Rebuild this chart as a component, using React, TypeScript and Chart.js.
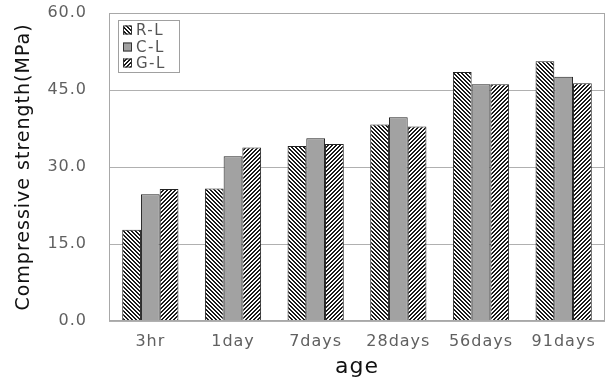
import React, { useEffect, useRef } from "react";
import { Chart, registerables } from "chart.js";

Chart.register(...registerables);

const categories = ["3hr", "1day", "7days", "28days", "56days", "91days"];
const seriesNames = ["R-L", "C-L", "G-L"];
const rlValues = [17.8, 25.8, 34.1, 38.3, 48.5, 50.6];
const clValues = [24.7, 32.1, 35.6, 39.7, 46.1, 47.6];
const glValues = [25.7, 33.8, 34.5, 37.9, 46.1, 46.3];
const yTickValues = [0, 15, 30, 45, 60];

const FONT = "'DejaVu Sans', 'Liberation Sans', sans-serif";

function makeHatch(dir: "back" | "fwd"): CanvasPattern | string {
  const size = 4;
  const c = document.createElement("canvas");
  c.width = size;
  c.height = size;
  const ctx = c.getContext("2d");
  if (!ctx) return "#888";
  ctx.fillStyle = "#ffffff";
  ctx.fillRect(0, 0, size, size);
  ctx.fillStyle = "#1a1a1a";
  for (let y = 0; y < size; y++) {
    for (let x = 0; x < size; x++) {
      const k = dir === "back" ? (((x - y) % size) + size) % size : (x + y) % size;
      if (k === 0 || k === 1) ctx.fillRect(x, y, 1, 1);
    }
  }
  const p = ctx.createPattern(c, "repeat");
  return p || "#888";
}

export default function App() {
  const ref = useRef<HTMLCanvasElement | null>(null);

  useEffect(() => {
    document.body.style.margin = "0";
    const canvas = ref.current;
    if (!canvas) return;
    const rlFill = makeHatch("back");
    const glFill = makeHatch("fwd");
    const clFill = "#a2a2a2";
    const fills = [rlFill, clFill, glFill];

    const framePlugin = {
      id: "frame",
      beforeDraw(chart: any) {
        (chart.ctx as any).letterSpacing = "1px";
      },
      afterDatasetsDraw(chart: any) {
        const { ctx, chartArea } = chart;
        ctx.save();
        ctx.strokeStyle = "#a8a8a8";
        ctx.lineWidth = 1;
        ctx.strokeRect(
          Math.round(chartArea.left) + 0.5,
          Math.round(chartArea.top) + 0.5,
          Math.round(chartArea.right - chartArea.left) - 1,
          Math.round(chartArea.bottom - chartArea.top) - 1
        );
        ctx.restore();
      },
      afterDraw(chart: any) {
        const { ctx } = chart;
        ctx.save();
        const bx = 118.5, by = 20.5, bw = 61, bh = 52;
        ctx.fillStyle = "#ffffff";
        ctx.fillRect(bx, by, bw, bh);
        ctx.strokeStyle = "#a0a0a0";
        ctx.lineWidth = 1;
        ctx.strokeRect(bx, by, bw, bh);
        const ys = [30, 47, 63];
        chart.data.datasets.forEach((ds: any, i: number) => {
          const cy = ys[i];
          ctx.fillStyle = fills[i];
          ctx.fillRect(123, cy - 4.5, 9, 9);
          ctx.strokeStyle = "#333";
          ctx.strokeRect(123.5, cy - 4, 8, 8);
          ctx.fillStyle = "#555";
          ctx.font = `15px ${FONT}`;
          ctx.textBaseline = "middle";
          (ctx as any).letterSpacing = "1.5px";
          ctx.fillText(ds.label, 136, cy + 1);
        });
        ctx.restore();
      },
    };

    const chart = new Chart(canvas, {
      type: "bar",
      data: {
        labels: categories,
        datasets: [rlValues, clValues, glValues].map((vals, i) => ({
          label: seriesNames[i],
          data: vals,
          backgroundColor: fills[i] as any,
          borderColor: "#222",
          borderWidth: 1,
          categoryPercentage: 0.68,
          barPercentage: 1.0,
        })),
      },
      options: {
        responsive: false,
        animation: false,
        layout: { padding: { top: 13, right: 5, left: 0, bottom: 0 } },
        plugins: {
          legend: { display: false },
          tooltip: { enabled: false },
        },
        scales: {
          x: {
            afterFit(scale: any) {
              scale.height = 60;
              scale.paddingLeft = 0;
              scale.paddingRight = 0;
            },
            grid: { display: false, drawTicks: false },
            border: { display: false },
            ticks: {
              color: "#606060",
              font: { family: FONT, size: 16 },
              padding: 11,
              maxRotation: 0,
            },
            title: {
              display: true,
              text: "age",
              color: "#111",
              font: { family: FONT, size: 22 },
              padding: { top: 0, bottom: 1 },
            },
          },
          y: {
            min: 0,
            max: 60,
            afterFit(scale: any) {
              scale.width = 109;
              scale.paddingTop = 0;
              scale.paddingBottom = 0;
            },
            afterBuildTicks(scale: any) {
              scale.ticks = yTickValues.map((v) => ({ value: v }));
            },
            grid: { color: "#b0b0b0", drawTicks: false, lineWidth: 1 },
            border: { display: false },
            ticks: {
              color: "#606060",
              font: { family: FONT, size: 16 },
              padding: 22,
              callback: (v: any) => Number(v).toFixed(1),
            },
            title: {
              display: true,
              text: "Compressive strength(MPa)",
              color: "#111",
              font: { family: FONT, size: 19 },
              padding: { top: 13, bottom: 0 },
            },
          },
        },
      },
      plugins: [framePlugin],
    });
    return () => chart.destroy();
  }, []);

  return (
    <div style={{ width: 610, height: 381, background: "#fff" }}>
      <canvas ref={ref} width={610} height={381} style={{ display: "block" }} />
    </div>
  );
}
